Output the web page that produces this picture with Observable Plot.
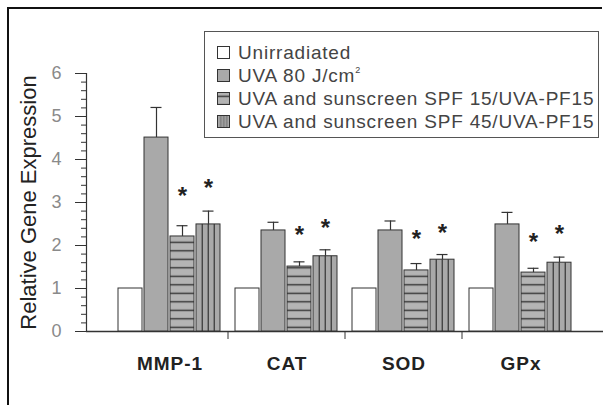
<!DOCTYPE html>
<html><head><meta charset="utf-8">
<script src="https://cdn.jsdelivr.net/npm/d3@7"></script>
<script src="https://cdn.jsdelivr.net/npm/@observablehq/plot@0.6"></script>
<style>
body{margin:0;background:#fff;}
#wrap{position:relative;width:609px;height:405px;overflow:hidden;font-family:"Liberation Sans",Arial,sans-serif;}
#wrap > svg, #wrap > figure{position:absolute;left:0;top:0;margin:0;}
#border{position:absolute;left:7px;top:7px;width:593px;height:420px;border-left:2px solid #111;border-top:2px solid #111;pointer-events:none;}
#legend{position:absolute;left:204px;top:31px;width:395px;height:107px;border:1.5px solid #555;background:#fff;box-sizing:border-box;}
#legend .row{position:absolute;left:12px;height:23px;display:flex;align-items:center;white-space:nowrap;font-size:19px;letter-spacing:0.8px;color:#444;}
#legend .row svg{margin-right:8px;flex:none;}
#legend sup{font-size:9px;vertical-align:9px;line-height:0;}
[aria-label="fx-axis tick label"]{font-weight:bold;letter-spacing:1px;}
#defs{position:absolute;width:0;height:0;}
</style></head>
<body>
<svg id="defs" width="0" height="0">
  <defs>
    <pattern id="hstripe" patternUnits="userSpaceOnUse" width="10" height="8.5">
      <rect width="10" height="8.5" fill="#b4b4b4"></rect>
      <rect y="3.6" width="10" height="1.4" fill="#333"></rect>
    </pattern>
    <pattern id="vstripe" patternUnits="objectBoundingBox" patternContentUnits="objectBoundingBox" width="1" height="1">
      <rect width="1" height="1" fill="#a9a9a9"></rect>
      <rect x="0.235" width="0.05" height="1" fill="#333"></rect>
      <rect x="0.485" width="0.05" height="1" fill="#333"></rect>
      <rect x="0.735" width="0.05" height="1" fill="#333"></rect>
    </pattern>
  </defs>
</svg>
<div id="wrap">
  <div id="legend"></div>
  <div id="border"></div>
</div>
<script>
// ---- data ----
const genes = ["MMP-1", "CAT", "SOD", "GPx"];
const series = ["Unirradiated", "UVA 80 J/cm²", "UVA and sunscreen SPF 15/UVA-PF15", "UVA and sunscreen SPF 45/UVA-PF15"];
const unirradiated = [1, 1, 1, 1];
const uva = [4.51, 2.35, 2.35, 2.49];
const uvaSD = [0.70, 0.19, 0.22, 0.28];
const spf15 = [2.21, 1.51, 1.42, 1.37];
const spf15SD = [0.25, 0.11, 0.16, 0.10];
const spf45 = [2.49, 1.75, 1.67, 1.60];
const spf45SD = [0.31, 0.15, 0.12, 0.13];
const star15 = [3.29, 2.38, 2.29, 2.22];
const star45 = [3.47, 2.54, 2.43, 2.41];
const yMajorTicks = [0, 1, 2, 3, 4, 5, 6];
const yMinorTicks = d3.range(0, 31).map(i => i / 5);
const yLabel = "Relative Gene Expression";

// ---- tables built from arrays ----
const valueSets = [unirradiated, uva, spf15, spf45];
const sdSets = [null, uvaSD, spf15SD, spf45SD];
const starSets = [null, null, star15, star45];
const rows = [];
genes.forEach((g, i) => series.forEach((s, j) => rows.push({
  gene: g, series: s, value: valueSets[j][i],
  sd: sdSets[j] ? sdSets[j][i] : null,
  star: starSets[j] ? starSets[j][i] : null
})));
const errRows = rows.filter(d => d.sd != null);
const starRows = rows.filter(d => d.star != null);

const fills = {
  [series[0]]: "#ffffff",
  [series[1]]: "#a9a9a9",
  [series[2]]: "url(#hstripe)",
  [series[3]]: "url(#vstripe)"
};
const ink = "#333";
const font = "'Liberation Sans', Arial, sans-serif";
const dims = {width: 609, height: 405, marginLeft: 86, marginRight: 6, marginTop: 73, marginBottom: 74};
const wrap = document.getElementById("wrap");

// axes layer (y axis, baseline, y label)
const axes = Plot.plot({
  ...dims,
  style: {fontFamily: font, background: "transparent", overflow: "visible"},
  x: {type: "linear", domain: [0, 1], axis: null},
  y: {domain: [0, 6], axis: null},
  marks: [
    Plot.axisY({ticks: yMinorTicks, tickSize: 5, tickFormat: () => "", stroke: ink, label: null}),
    Plot.axisY({ticks: yMajorTicks, tickSize: 11, tickPadding: 14, tickFormat: d3.format("d"), fontSize: 18, fill: "#8a8a8a", stroke: ink, label: null}),
    Plot.ruleX([0], {stroke: ink, strokeWidth: 1.2}),
    Plot.ruleY([0], {stroke: ink, strokeWidth: 1.5}),
    Plot.text([yLabel], {frameAnchor: "left", textAnchor: "middle", rotate: -90, dx: -58, fontSize: 22, fill: "#222"})
  ]
});

// bars layer (faceted by gene)
const bars = Plot.plot({
  ...dims,
  style: {fontFamily: font, background: "transparent", overflow: "visible"},
  fx: {domain: genes, paddingInner: 0, paddingOuter: 0.2, axis: null, label: null},
  x: {domain: series, paddingInner: 0.07, paddingOuter: 0.23, axis: null},
  y: {domain: [0, 6], axis: null},
  marks: [
    ...series.map(s => Plot.barY(rows.filter(d => d.series === s), {
      fx: "gene", x: "series", y: "value", fill: fills[s], stroke: ink, strokeWidth: 1
    })),
    Plot.ruleX(errRows, {fx: "gene", x: "series", y1: "value", y2: d => d.value + d.sd, stroke: ink, strokeWidth: 1.2}),
    Plot.tickY(errRows, {fx: "gene", x: "series", y: d => d.value + d.sd, insetLeft: 6.5, insetRight: 6.5, stroke: ink, strokeWidth: 1.2}),
    Plot.text(starRows, {fx: "gene", x: "series", y: "star", text: () => "*", fontSize: 24, fontWeight: "bold", fill: "#222", dy: 6}),
    Plot.axisFx({anchor: "bottom", tickSize: 0, tickPadding: 25, fontSize: 19, fill: "#222", label: null})
  ]
});

wrap.insertBefore(bars, wrap.firstChild);
wrap.insertBefore(axes, wrap.firstChild);

// group separators below the baseline, placed from Plot's own fx / y scales
const fxS = bars.scale("fx"), yS = bars.scale("y");
const svg = d3.select(bars.tagName.toLowerCase() === "svg" ? bars : bars.querySelector("svg"));
genes.slice(1).forEach(g => {
  const x = fxS.apply(g);
  svg.append("line").attr("x1", x).attr("x2", x)
    .attr("y1", yS.apply(0)).attr("y2", yS.apply(0) + 8)
    .attr("stroke", ink).attr("stroke-width", 1);
});

// legend
const legend = document.getElementById("legend");
series.forEach((s, j) => {
  const row = document.createElement("div");
  row.className = "row";
  row.style.top = (9 + j * 23) + "px";
  const label = s.replace("cm²", "cm<sup>2</sup>");
  row.innerHTML = `<svg width="13" height="13"><rect x="0.5" y="0.5" width="12" height="12" fill="${fills[s]}" stroke="${ink}" stroke-width="1"></rect></svg><span>${label}</span>`;
  legend.appendChild(row);
});
</script>
</body></html>
